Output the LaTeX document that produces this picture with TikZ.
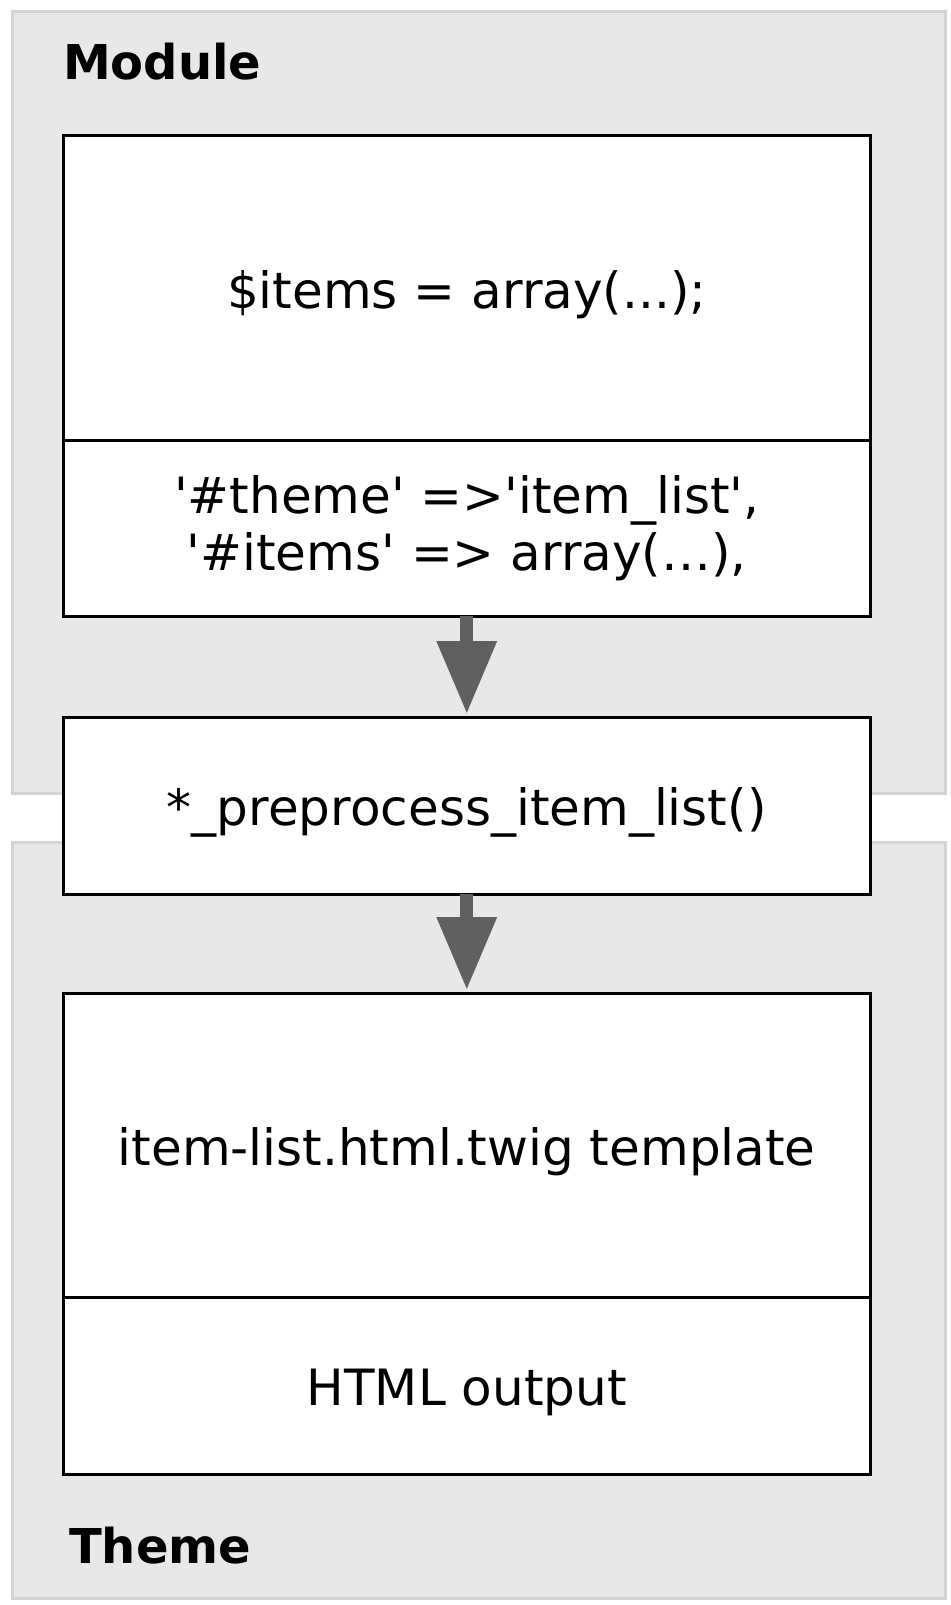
\documentclass[tikz,border=0pt]{standalone}
\usepackage{fontspec}
\setmainfont{DejaVu Sans}
\usetikzlibrary{arrows.meta,positioning}
\definecolor{panelgray}{HTML}{E8E8E8}
\definecolor{panelline}{HTML}{D4D4D4}
\definecolor{arrowgray}{HTML}{606060}
\newcommand{\sq}{\textquotesingle}
\tikzset{
    panel/.style = {
        draw = panelline,
        fill = panelgray,
        line width = 3pt,
        rectangle,
        minimum width = 933pt,
        outer sep = 0pt
    },
    codebox/.style = {
        draw = black,
        fill = white,
        line width = 3pt,
        rectangle,
        minimum width = 806.5pt,
        inner sep = 0pt,
        outer sep = 0pt,
        font = \fontsize{50}{57}\selectfont
    },
    oneline/.style = {
        text height = 47pt,
        text depth = 6.5pt
    },
    title/.style = {
        anchor = base west,
        inner sep = 0pt,
        font = \fontsize{48}{56}\selectfont\bfseries
    },
    flow/.style = {
        draw = arrowgray,
        line width = 13pt,
        -{Triangle[width=57pt,length=73pt]},
        shorten > = 3pt
    }
}

\begin{document}
\begin{tikzpicture}[x=1pt,y=1pt]
    \useasboundingbox (0,0) rectangle (950,-1605);
%containers
    \node (module) [panel, minimum height = 781pt] at (479,-402.5) {};
    \node (theme) [panel, minimum height = 756pt] at (479,-1220) {};
    \node (modtitle) [title] at (63,-80) {Module};
    \node (themetitle) [title] at (69,-1563) {Theme};
%module side
    \node (items) [codebox, oneline, minimum height = 304pt] at (466.75,-288) {\$items = array(...);};
    \node (render) [codebox, align = center, below = 0pt of items, minimum height = 176pt]{\sq\#theme\sq{} =>\sq item\_list\sq,\\\sq\#items\sq{} => array(…),};
%hook
    \node (preprocess) [codebox, oneline, below = 101pt of render, minimum height = 177pt]{*\_preprocess\_item\_list()};
%theme side
    \node (template) [codebox, oneline, below = 99pt of preprocess, minimum height = 304pt]{item-list.html.twig template};
    \node (output) [codebox, oneline, below = 0pt of template, minimum height = 177pt]{HTML output};
%add arrows
    \draw[flow] (render) -- (preprocess);
    \draw[flow] (preprocess) -- (template);
\end{tikzpicture}
\end{document}
